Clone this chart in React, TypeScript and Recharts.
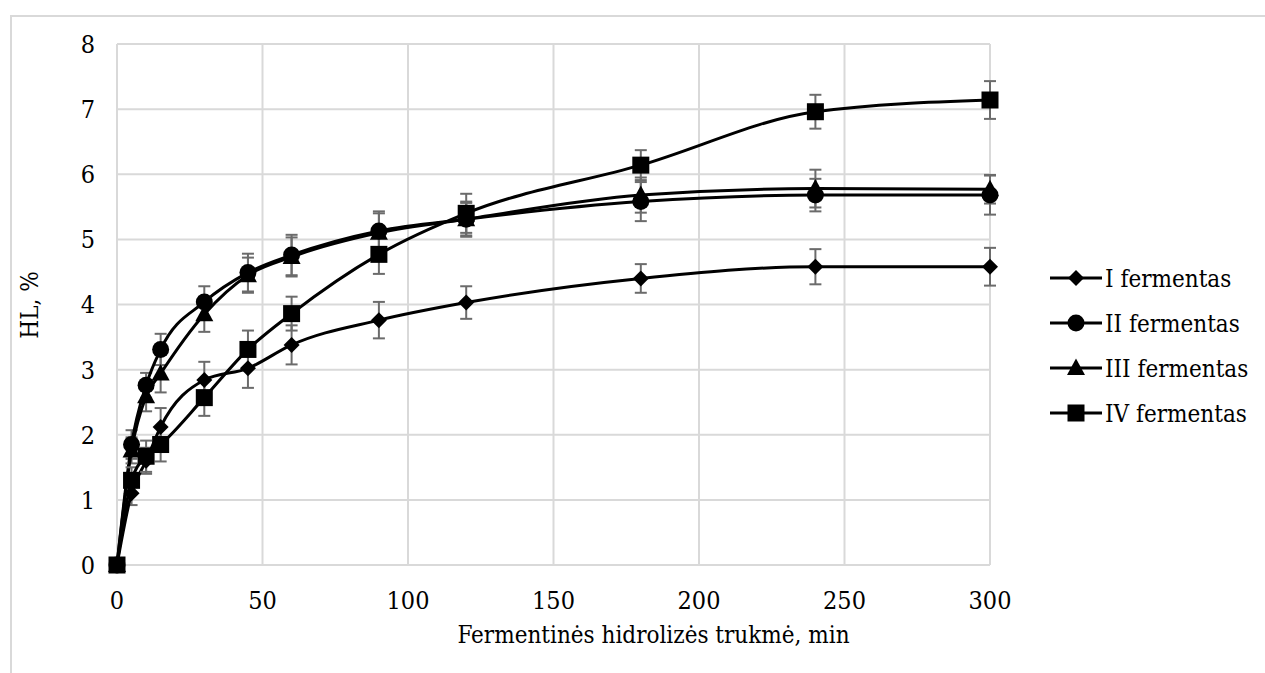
import React from 'react';
import { LineChart, Line, XAxis, YAxis, CartesianGrid, ErrorBar, Label } from 'recharts';

const times = [0, 5, 10, 15, 30, 45, 60, 90, 120, 180, 240, 300];
const seriesNames = ['I fermentas', 'II fermentas', 'III fermentas', 'IV fermentas'];
const s1 = [0, 1.1, 1.6, 2.12, 2.84, 3.02, 3.38, 3.76, 4.03, 4.4, 4.58, 4.58];
const e1 = [0, 0.18, 0.2, 0.29, 0.28, 0.3, 0.3, 0.28, 0.25, 0.22, 0.27, 0.29];
const s2 = [0, 1.85, 2.76, 3.31, 4.04, 4.49, 4.76, 5.13, 5.31, 5.58, 5.68, 5.68];
const e2 = [0, 0.22, 0.19, 0.24, 0.24, 0.29, 0.31, 0.3, 0.27, 0.3, 0.25, 0.3];
const s3 = [0, 1.76, 2.59, 2.94, 3.85, 4.45, 4.73, 5.1, 5.31, 5.68, 5.78, 5.77];
const e3 = [0, 0.2, 0.23, 0.29, 0.27, 0.27, 0.3, 0.3, 0.25, 0.27, 0.29, 0.22];
const s4 = [0, 1.3, 1.67, 1.85, 2.57, 3.31, 3.86, 4.77, 5.4, 6.14, 6.96, 7.14];
const e4 = [0, 0.2, 0.24, 0.26, 0.28, 0.29, 0.26, 0.3, 0.3, 0.23, 0.26, 0.29];
const xTicks = [0, 50, 100, 150, 200, 250, 300];
const yTicks = [0, 1, 2, 3, 4, 5, 6, 7, 8];

const data = times.map((t, i) => ({
  t,
  v1: s1[i], err1: e1[i],
  v2: s2[i], err2: e2[i],
  v3: s3[i], err3: e3[i],
  v4: s4[i], err4: e4[i],
}));

const FONT = "DejaVu Serif Condensed";
const GRID = '#d9d9d9';
const ERR = '#6b6b6b';

type Shape = 'diamond' | 'circle' | 'triangle' | 'square';

function Marker({ shape, cx, cy }: { shape: Shape; cx: number; cy: number }) {
  if (cx == null || cy == null || isNaN(cx) || isNaN(cy)) return null;
  switch (shape) {
    case 'diamond':
      return <polygon points={`${cx},${cy - 8} ${cx + 8},${cy} ${cx},${cy + 8} ${cx - 8},${cy}`} fill="#000" />;
    case 'circle':
      return <circle cx={cx} cy={cy} r={8.5} fill="#000" />;
    case 'triangle':
      return <polygon points={`${cx},${cy - 9.5} ${cx + 9},${cy + 7} ${cx - 9},${cy + 7}`} fill="#000" />;
    default:
      return <rect x={cx - 8.5} y={cy - 8.5} width={17} height={17} fill="#000" />;
  }
}

const shapes: Shape[] = ['diamond', 'circle', 'triangle', 'square'];

function makeDot(shape: Shape) {
  return (props: any) => <Marker key={`${shape}-${props.index}`} shape={shape} cx={props.cx} cy={props.cy} />;
}

function LegendBox() {
  return (
    <svg width={220} height={190} style={{ position: 'absolute', left: 1048, top: 256 }}>
      {seriesNames.map((name, i) => {
        const y = 22 + i * 45;
        return (
          <g key={name}>
            <line x1={2} x2={54} y1={y} y2={y} stroke="#000" strokeWidth={3} />
            <Marker shape={shapes[i]} cx={28} cy={y} />
            <text x={57} y={y} dy="0.36em" style={{ fontFamily: FONT, fontSize: 24 }} fill="#000">{name}</text>
          </g>
        );
      })}
    </svg>
  );
}

export default function App() {
  const tickStyle = { style: { fontFamily: FONT, fontSize: 25 }, fill: '#000' };
  return (
    <div style={{ position: 'absolute', left: 0, top: 0, width: 1265, height: 673, background: '#fff', overflow: 'hidden' }}>
      <div style={{ position: 'absolute', left: 10, top: 15, width: 1300, height: 700, borderTop: `2px solid ${GRID}`, borderLeft: `2px solid ${GRID}` }} />
      <div style={{ position: 'absolute', left: 0, top: 0 }}>
        <LineChart width={1265} height={673} data={data} margin={{ top: 44, right: 275, bottom: 38, left: 0 }}>
          <CartesianGrid stroke={GRID} strokeWidth={2} verticalValues={xTicks} horizontalValues={yTicks} />
          <XAxis
            dataKey="t"
            type="number"
            domain={[0, 300]}
            ticks={xTicks}
            axisLine={false}
            tickLine={false}
            tickSize={0}
            tickMargin={26}
            tick={tickStyle}
            height={70}
            interval={0}
          >
            <Label
              content={(p: any) => {
                const vb = p.viewBox || {};
                return (
                  <text x={vb.x + vb.width / 2 + 100} y={635} textAnchor="middle" dominantBaseline="central" style={{ fontFamily: FONT, fontSize: 24 }} fill="#000">
                    Fermentinės hidrolizės trukmė, min
                  </text>
                );
              }}
            />
          </XAxis>
          <YAxis
            type="number"
            domain={[0, 8]}
            ticks={yTicks}
            axisLine={false}
            tickLine={false}
            tickSize={0}
            tickMargin={22}
            tick={tickStyle}
            width={117}
            interval={0}
          >
            <Label
              content={() => (
                <text x={30} y={305} transform="rotate(-90 30 305)" textAnchor="middle" dominantBaseline="central" style={{ fontFamily: FONT, fontSize: 24 }} fill="#000">
                  HL, %
                </text>
              )}
            />
          </YAxis>
          <Line type="monotone" dataKey="v1" stroke="#000" strokeWidth={3} dot={makeDot('diamond')} activeDot={false} isAnimationActive={false}>
            <ErrorBar dataKey="err1" direction="y" width={6} stroke={ERR} strokeWidth={2} />
          </Line>
          <Line type="monotone" dataKey="v2" stroke="#000" strokeWidth={3} dot={makeDot('circle')} activeDot={false} isAnimationActive={false}>
            <ErrorBar dataKey="err2" direction="y" width={6} stroke={ERR} strokeWidth={2} />
          </Line>
          <Line type="monotone" dataKey="v3" stroke="#000" strokeWidth={3} dot={makeDot('triangle')} activeDot={false} isAnimationActive={false}>
            <ErrorBar dataKey="err3" direction="y" width={6} stroke={ERR} strokeWidth={2} />
          </Line>
          <Line type="monotone" dataKey="v4" stroke="#000" strokeWidth={3} dot={makeDot('square')} activeDot={false} isAnimationActive={false}>
            <ErrorBar dataKey="err4" direction="y" width={6} stroke={ERR} strokeWidth={2} />
          </Line>
        </LineChart>
      </div>
      <LegendBox />
    </div>
  );
}
